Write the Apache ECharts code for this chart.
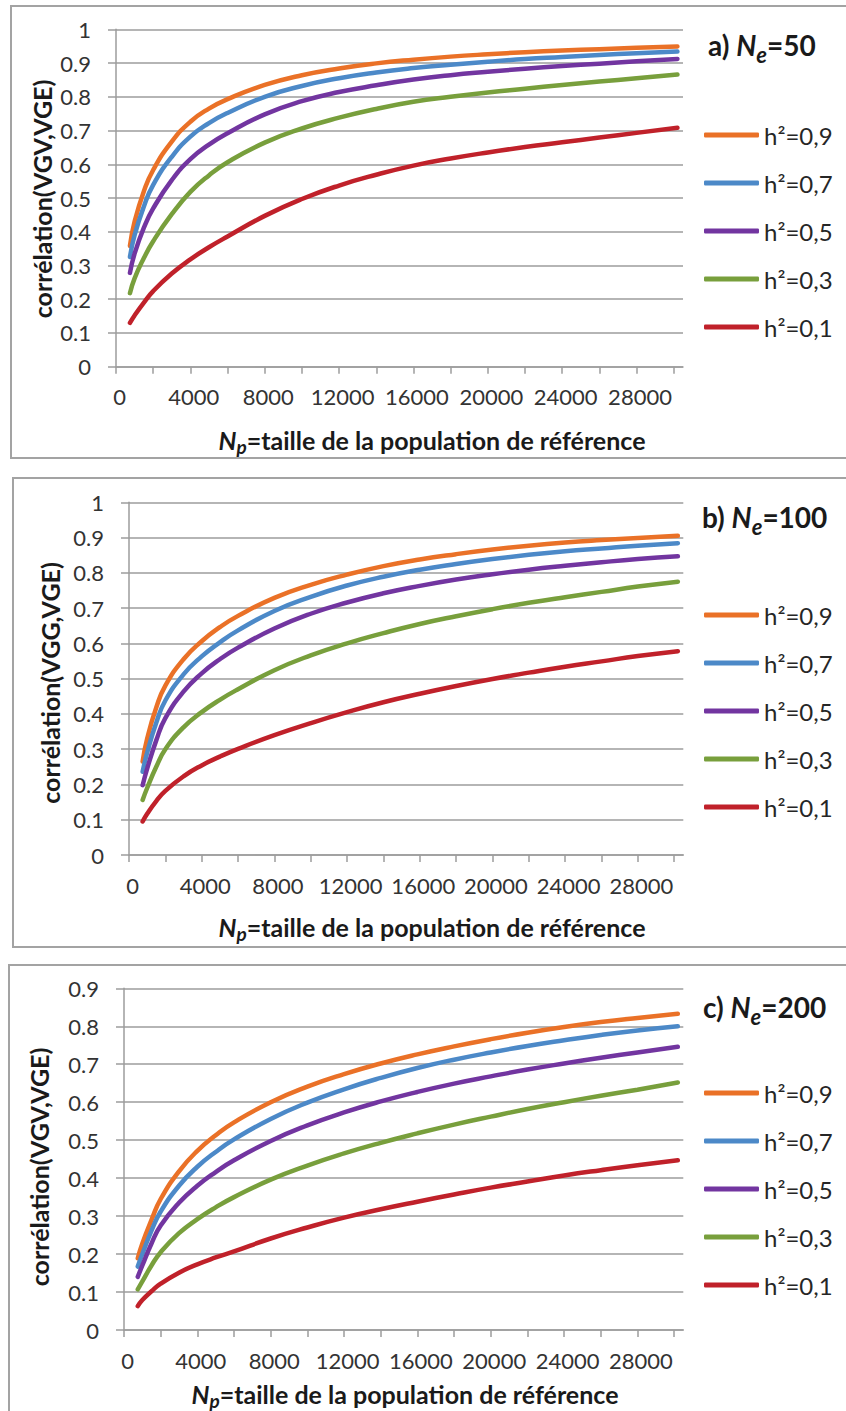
<!doctype html>
<html>
<head>
<meta charset="utf-8">
<title>corrélation(VGV,VGE) selon Np</title>
<script src="https://cdn.jsdelivr.net/npm/echarts@6/dist/echarts.min.js"></script>
<style>
    body{margin:0;background:#fff;}
    #main{width:846px;height:1411px;}
</style>
</head>
<body>
<div id="main"></div>
<script>
    // Np = taille de la population de référence
    var np = [750, 1000, 1500, 2000, 3000, 4000, 5000, 6000, 8000, 10000, 12000, 14000, 16000, 18000, 20000, 22000, 24000, 26000, 28000, 30200];
    var xTicks = [0, 2000, 4000, 6000, 8000, 10000, 12000, 14000, 16000, 18000, 20000, 22000, 24000, 26000, 28000, 30000];
    var xLabels = [0, 4000, 8000, 12000, 16000, 20000, 24000, 28000];
    var names = ['h²=0,9', 'h²=0,7', 'h²=0,5', 'h²=0,3', 'h²=0,1'];

    // a) Ne=50
    var a09 = [0.358, 0.43, 0.52, 0.583, 0.667, 0.726, 0.765, 0.793, 0.835, 0.864, 0.884, 0.899, 0.910, 0.919, 0.926, 0.932, 0.937, 0.941, 0.945, 0.949];
    var a07 = [0.325, 0.39, 0.475, 0.539, 0.622, 0.682, 0.722, 0.752, 0.80, 0.832, 0.855, 0.872, 0.885, 0.895, 0.904, 0.912, 0.918, 0.924, 0.929, 0.934];
    var a05 = [0.278, 0.335, 0.412, 0.469, 0.553, 0.615, 0.658, 0.692, 0.748, 0.787, 0.814, 0.834, 0.851, 0.864, 0.874, 0.883, 0.891, 0.898, 0.905, 0.912];
    var a03 = [0.218, 0.262, 0.322, 0.372, 0.452, 0.518, 0.567, 0.606, 0.664, 0.706, 0.738, 0.764, 0.785, 0.80, 0.813, 0.824, 0.835, 0.845, 0.855, 0.866];
    var a01 = [0.13, 0.152, 0.19, 0.224, 0.276, 0.318, 0.354, 0.386, 0.447, 0.497, 0.537, 0.569, 0.596, 0.617, 0.635, 0.651, 0.665, 0.679, 0.693, 0.708];

    // b) Ne=100
    var b09 = [0.265, 0.33, 0.418, 0.48, 0.555, 0.606, 0.646, 0.678, 0.729, 0.766, 0.795, 0.819, 0.838, 0.853, 0.866, 0.877, 0.886, 0.893, 0.899, 0.905];
    var b07 = [0.236, 0.29, 0.375, 0.438, 0.512, 0.563, 0.603, 0.637, 0.692, 0.732, 0.764, 0.789, 0.809, 0.825, 0.839, 0.851, 0.861, 0.869, 0.877, 0.884];
    var b05 = [0.198, 0.245, 0.325, 0.388, 0.463, 0.515, 0.555, 0.588, 0.642, 0.684, 0.716, 0.742, 0.763, 0.781, 0.796, 0.809, 0.82, 0.83, 0.839, 0.847];
    var b03 = [0.156, 0.19, 0.25, 0.30, 0.362, 0.405, 0.44, 0.47, 0.524, 0.566, 0.60, 0.629, 0.655, 0.677, 0.697, 0.715, 0.731, 0.746, 0.761, 0.775];
    var b01 = [0.095, 0.117, 0.153, 0.182, 0.223, 0.254, 0.279, 0.301, 0.34, 0.374, 0.405, 0.433, 0.457, 0.479, 0.499, 0.517, 0.534, 0.549, 0.564, 0.578];

    // c) Ne=200
    var c09 = [0.189, 0.228, 0.29, 0.345, 0.418, 0.472, 0.513, 0.547, 0.60, 0.641, 0.674, 0.702, 0.726, 0.747, 0.766, 0.783, 0.798, 0.811, 0.822, 0.833];
    var c07 = [0.167, 0.20, 0.262, 0.312, 0.38, 0.43, 0.469, 0.502, 0.556, 0.599, 0.634, 0.664, 0.69, 0.712, 0.731, 0.748, 0.763, 0.777, 0.789, 0.80];
    var c05 = [0.14, 0.17, 0.228, 0.275, 0.335, 0.38, 0.416, 0.447, 0.498, 0.539, 0.573, 0.602, 0.627, 0.649, 0.668, 0.686, 0.702, 0.717, 0.731, 0.746];
    var c03 = [0.107, 0.128, 0.17, 0.205, 0.255, 0.292, 0.323, 0.35, 0.396, 0.433, 0.465, 0.493, 0.518, 0.541, 0.562, 0.582, 0.60, 0.617, 0.633, 0.652];
    var c01 = [0.063, 0.079, 0.102, 0.122, 0.151, 0.173, 0.191, 0.207, 0.241, 0.27, 0.296, 0.318, 0.338, 0.357, 0.375, 0.391, 0.407, 0.421, 0.434, 0.447];

    var colors = ['#EA7127', '#4C89C8', '#7235A0', '#789F3C', '#C0212A'];
    var gray = '#9d9d9d';
    var font = 'Lato';

    var panels = [
        {grid: {left: 116, top: 29.3, width: 567, height: 337.4}, yMax: 1, lines: [a09, a07, a05, a03, a01],
         box: [11, 6, 452], title: ['a) {n|N}{s|e}=50', 708, 45], yName: ['corrélation(VGV,VGE)', 42, 199],
         xName: [432, 440], legendTop: 118},
        {grid: {left: 129, top: 502.3, width: 554.3, height: 352.7}, yMax: 1, lines: [b09, b07, b05, b03, b01],
         box: [13, 478, 469], title: ['b) {n|N}{s|e}=100', 702, 517], yName: ['corrélation(VGG,VGE)', 50, 683],
         xName: [432, 927], legendTop: 598},
        {grid: {left: 124, top: 988.3, width: 559.3, height: 341.7}, yMax: 0.9, lines: [c09, c07, c05, c03, c01],
         box: [9, 965, 500], title: ['c) {n|N}{s|e}=200', 703, 1007], yName: ['corrélation(VGV,VGE)', 39, 1167],
         xName: [405, 1394], legendTop: 1076}
    ];

    var grids = [], xAxes = [], yAxes = [], series = [], legends = [], graphics = [];

    panels.forEach(function (p, k) {
        grids.push(p.grid);
        xAxes.push({
            type: 'value', gridIndex: k, min: 0, max: 30500, interval: 2000,
            splitLine: {show: false},
            axisLine: {show: true, lineStyle: {color: gray, width: 1.5}},
            axisTick: {show: true, length: 7, customValues: xTicks, lineStyle: {color: gray, width: 1.5}},
            axisLabel: {
                customValues: xLabels, fontFamily: font, fontSize: 22, color: '#333', margin: 19, padding: [0, 0, 0, 7],
                formatter: function (v) { return String(v); }
            }
        });
        yAxes.push({
            type: 'value', gridIndex: k, min: 0, max: p.yMax, interval: 0.1,
            axisLine: {show: true, lineStyle: {color: gray, width: 1.5}},
            axisTick: {show: true, length: 8, lineStyle: {color: gray, width: 1.5}},
            splitLine: {show: true, lineStyle: {color: gray, width: 1.5}},
            axisLabel: {fontFamily: font, fontSize: 22, color: '#333', margin: 25}
        });
        p.lines.forEach(function (vals, i) {
            series.push({
                name: names[i], type: 'line', xAxisIndex: k, yAxisIndex: k,
                smooth: 0.5, showSymbol: false, silent: true,
                color: colors[i],
                itemStyle: {color: colors[i]},
                lineStyle: {color: colors[i], width: 4.5, cap: 'round', join: 'round'},
                data: np.map(function (x, j) { return [x, vals[j]]; })
            });
        });
        legends.push({
            left: 699, top: p.legendTop, orient: 'vertical', icon: 'roundRect',
            itemWidth: 55, itemHeight: 5, itemGap: 24, selectedMode: false,
            textStyle: {fontFamily: font, fontSize: 24, lineHeight: 24, color: '#262626'},
            data: names
        });
        // cadre du panneau
        graphics.push({
            type: 'rect', silent: true,
            shape: {x: p.box[0], y: p.box[1], width: 900, height: p.box[2]},
            style: {fill: 'none', stroke: '#a3a3a3', lineWidth: 2}
        });
        // titre a) b) c)
        graphics.push({
            type: 'text', x: p.title[1], y: p.title[2],
            style: {
                text: p.title[0], fill: '#1a1a1a', font: 'bold 28px Lato', lineHeight: 40,
                align: 'left', verticalAlign: 'middle',
                rich: {
                    n: {fontFamily: font, fontWeight: 'bold', fontStyle: 'italic', fontSize: 28, lineHeight: 40},
                    s: {fontFamily: font, fontWeight: 'bold', fontStyle: 'italic', fontSize: 22, lineHeight: 22, verticalAlign: 'bottom'}
                }
            }
        });
        // nom de l'axe y
        graphics.push({
            type: 'text', x: p.yName[1], y: p.yName[2], rotation: Math.PI / 2,
            style: {text: p.yName[0], fill: '#1a1a1a', font: 'bold 25px Lato', align: 'center', verticalAlign: 'middle'}
        });
        // nom de l'axe x
        graphics.push({
            type: 'text', x: p.xName[0], y: p.xName[1],
            style: {
                text: '{n|N}{s|p}=taille de la population de référence', fill: '#1a1a1a',
                font: 'bold 25px Lato', lineHeight: 32, align: 'center', verticalAlign: 'middle',
                rich: {
                    n: {fontFamily: font, fontWeight: 'bold', fontStyle: 'italic', fontSize: 25, lineHeight: 32},
                    s: {fontFamily: font, fontWeight: 'bold', fontStyle: 'italic', fontSize: 19, lineHeight: 19, verticalAlign: 'bottom'}
                }
            }
        });
    });

    var myChart = echarts.init(document.getElementById('main'), null, {renderer: 'svg'});
    myChart.setOption({
        animation: false,
        backgroundColor: '#fff',
        grid: grids,
        xAxis: xAxes,
        yAxis: yAxes,
        legend: legends,
        graphic: graphics,
        series: series
    });
</script>
</body>
</html>
